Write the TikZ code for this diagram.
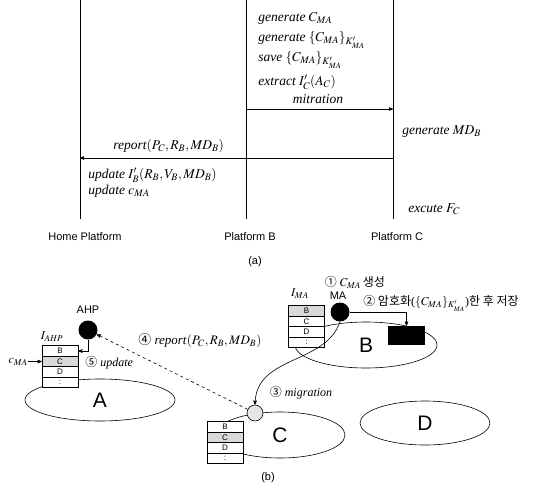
\documentclass[tikz,border=0pt]{standalone}
\usepackage{mathptmx}
\usepackage[no-math]{fontspec}
\setmainfont{Liberation Serif}
\newfontfamily\lsans{Liberation Sans}
\newfontfamily\kr{Noto Sans CJK KR}
\usetikzlibrary{arrows,shapes.geometric}

\begin{document}
\begin{tikzpicture}[x=1pt,y=-1pt,>=stealth',semithick,
  txt/.style={font=\fontsize{13.5}{15}\selectfont\itshape,anchor=west,inner sep=0pt},
  lab/.style={font=\fontsize{12}{14}\selectfont,inner sep=0pt},
  plat/.style={font=\lsans\fontsize{11}{13}\selectfont,inner sep=0pt},
  isl/.style={draw,ellipse,inner sep=0pt,font=\lsans\fontsize{21}{24}\selectfont},
  cell/.style={draw,fill=white,minimum width=36pt,minimum height=10.5pt,inner sep=0pt,font=\lsans\fontsize{8}{9}\selectfont},
  hot/.style={cell,fill=gray!30},
  dot/.style={circle,fill=black,minimum size=19pt,inner sep=0pt}]
 \useasboundingbox (0,0) rectangle (538,488);

 % (a)
 \node[plat] (hp) at (85,237)  {Home Platform};
 \node[plat] (pb) at (250,237) {Platform B};
 \node[plat] (pc) at (397,237) {Platform C};
 \node[plat] (la) at (255,262) {(a)};
 \coordinate (ht) at (80,0);  \coordinate (hb) at (80,219);
 \coordinate (bt) at (246,0); \coordinate (bb) at (246,219);
 \coordinate (ct) at (393,0); \coordinate (cb) at (393,219);
 \draw (ht) -- (hb);
 \draw (bt) -- (bb);
 \draw (ct) -- (cb);

 \node[txt] (t1) at (258,18) {generate $C_{MA}$};
 \node[txt] (t2) at (258,40) {generate $\{C_{MA}\}_{K'_{MA}}$};
 \node[txt] (t3) at (258,60) {save $\{C_{MA}\}_{K'_{MA}}$};
 \node[txt] (t4) at (258,82) {extract $I'_C(A_C)$};
 \node[txt,anchor=center] (t5) at (318,99) {mitration};
 \coordinate (b1) at (246,109); \coordinate (c1) at (393,109);
 \draw[->] (b1) -- (c1);
 \node[txt] (t6) at (402,132) {generate $MD_B$};
 \coordinate (c2) at (393,158); \coordinate (h2) at (80,158);
 \draw[->] (c2) -- (h2);
 \node[txt] (t7) at (113,146) {report$(P_C,R_B,MD_B)$};
 \node[txt] (t8) at (88,175)  {update $I'_B(R_B,V_B,MD_B)$};
 \node[txt] (t9) at (88,191)  {update $c_{MA}$};
 \node[txt] (t10) at (408,209) {excute $F_C$};

 % (b)
 \node[isl,minimum width=150pt,minimum height=42pt] (ea) at (100,400) {A};
 \node[isl,minimum width=142pt,minimum height=46pt] (eb) at (366,345) {B};
 \node[isl,minimum width=130pt,minimum height=46pt] (ec) at (280,435) {C};
 \node[isl,minimum width=130pt,minimum height=44pt] (ed) at (425,423) {D};
 \node[plat] (lb) at (268,478) {(b)};

 \node[cell] (ab) at (60,351)   {B};
 \node[hot]  (ac) at (60,361.5) {C};
 \node[cell] (ad) at (60,372)   {D};
 \node[cell] (ae) at (60,382.5) {:};
 \node[lab]  (ai) at (52,337)   {$I_{AHP}$};

 \node[hot]  (mb) at (306.5,311)   {B};
 \node[cell] (mc) at (306.5,321.5) {C};
 \node[cell] (md) at (306.5,332)   {D};
 \node[cell] (me) at (306.5,342.5) {:};
 \node[lab]  (mi) at (300,294)     {$I_{MA}$};

 \node[cell] (cb2) at (225,427)   {B};
 \node[hot]  (cc2) at (225,437.5) {C};
 \node[cell] (cd2) at (225,448)   {D};
 \node[cell] (ce2) at (225,458.5) {:};

 \node[dot] (ahp) at (88,330) {};
 \node[plat] (ahpl) at (88,310) {AHP};
 \node[dot] (ma) at (340,312) {};
 \node[plat] (mal) at (338,296) {MA};
 \node[circle,draw,fill=gray!20,minimum size=16pt,inner sep=0pt] (cc) at (255,413) {};
 \node[fill=black,minimum width=37pt,minimum height=19pt,inner sep=0pt] (bx) at (406.5,335.5) {};

 \node[lab] (l1) at (355,282) {{\kr ①} $C_{MA}$\,{\kr 생성}};
 \node[lab,anchor=west] (l2) at (363,303) {{\kr ② 암호화}($\{C_{MA}\}_{K'_{MA}}$){\kr 한 후 저장}};
 \node[lab] (l3) at (301,393) {{\kr ③} \textit{migration}};
 \node[lab,anchor=west,font=\fontsize{13}{15}\selectfont] (l4) at (138,341) {{\kr ④} \textit{report}$(P_C,R_B,MD_B)$};
 \node[lab,anchor=west] (l5) at (85,363) {{\kr ⑤} \textit{update}};

 \coordinate (cin) at (28,361.5);
 \node[lab,anchor=east] (cl) at (cin) {$c_{MA}$};
 \draw[->] (cin) -- (ac.west);
 \draw[->] (ahp.south) |- (ab.east);
 \draw[->] (ma) -| (bx.north);
 \draw[->] (ma.south) .. controls (325,365) and (256,355) .. (cc.north);
 \draw[->,dashed] (cc) -- (ahp);
\end{tikzpicture}
\end{document}
